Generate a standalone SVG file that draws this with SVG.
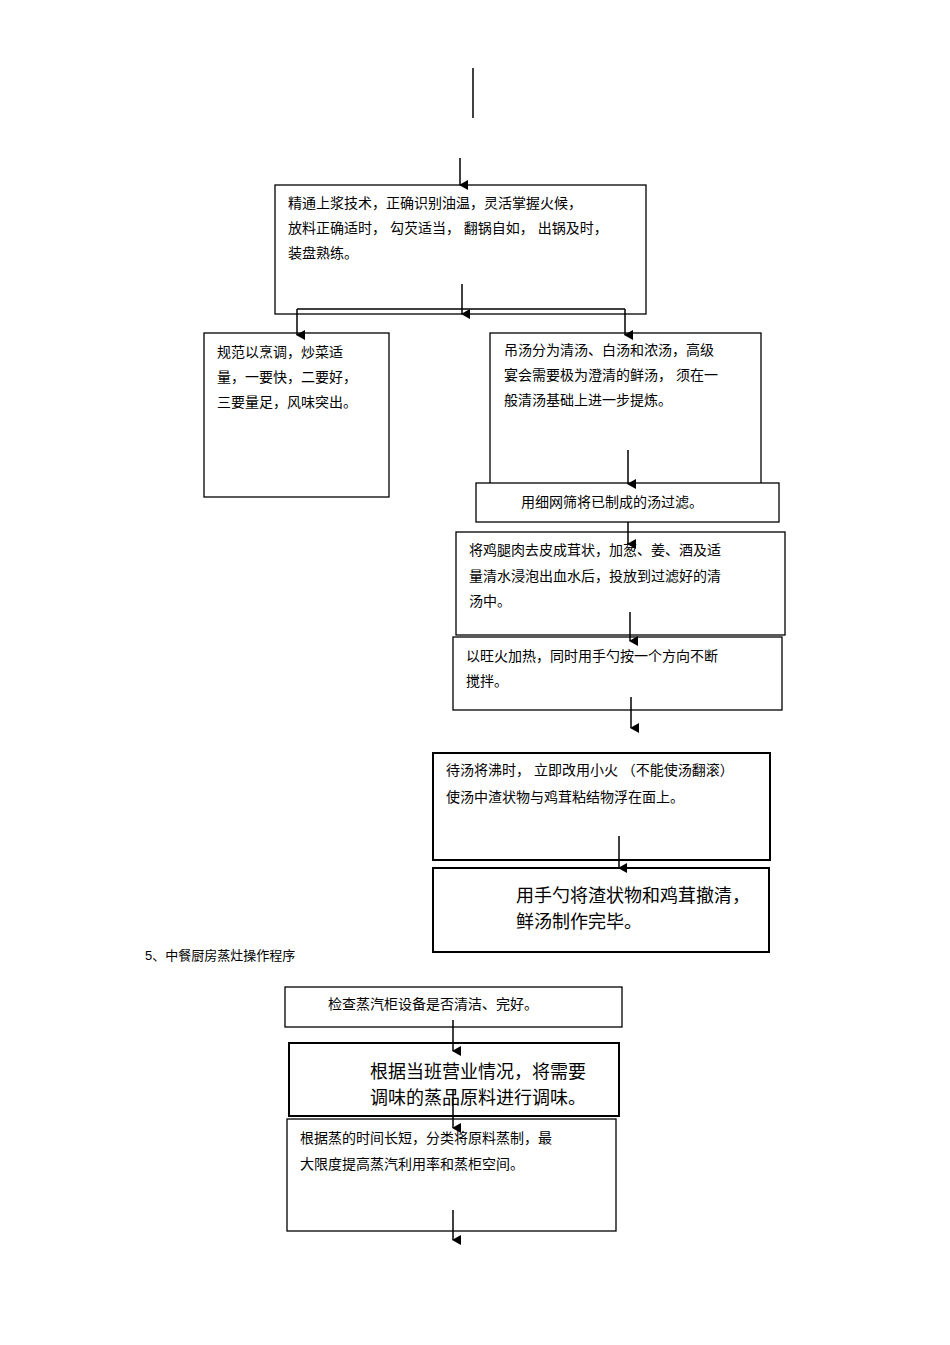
<svg xmlns="http://www.w3.org/2000/svg" width="950" height="1345" viewBox="0 0 950 1345">
<style>
rect{fill:#fff;stroke:#000;stroke-width:1.3}
.th{stroke-width:2}
text{font-family:"Liberation Sans","Noto Sans CJK SC",sans-serif;font-size:14px;fill:#000}
.b{font-size:18px}
line{stroke:#000;stroke-width:1.5}
</style>
<defs><marker id="a" markerWidth="10" markerHeight="10" refX="5" refY="8" orient="auto" markerUnits="userSpaceOnUse"><path d="M0,0L10,0L5,9z" transform="rotate(0)" fill="#000"/></marker>
<marker id="h" markerWidth="10" markerHeight="10" refX="8" refY="5" orient="auto" markerUnits="userSpaceOnUse"><path d="M0,0L9,5L0,10z" fill="#000"/></marker></defs>
<rect x="0" y="0" width="950" height="1345" style="stroke:none"/>
<g id="n1"><rect x="275" y="185" width="371" height="129"/>
<text x="288" y="208">精通上浆技术，正确识别油温，灵活掌握火候，</text>
<text x="288" y="233">放料正确适时，   勾芡适当，  翻锅自如，  出锅及时，</text>
<text x="288" y="258">装盘熟练。</text></g>
<g id="n2"><rect x="204" y="333" width="185" height="164"/>
<text x="217" y="357">规范以烹调，炒菜适</text><text x="217" y="382">量，一要快，二要好，</text><text x="217" y="407">三要量足，风味突出。</text></g>
<g id="n3"><rect x="490" y="333" width="271" height="160"/>
<text x="504" y="355">吊汤分为清汤、白汤和浓汤，高级</text><text x="504" y="380">宴会需要极为澄清的鲜汤，    须在一</text><text x="504" y="405">般清汤基础上进一步提炼。</text></g>
<g id="n4"><rect x="476" y="483" width="303" height="39"/><text x="521" y="507">用细网筛将已制成的汤过滤。</text></g>
<g id="n5"><rect x="456" y="532" width="329" height="103"/>
<text x="469" y="555">将鸡腿肉去皮成茸状，加葱、姜、酒及适</text><text x="469" y="581">量清水浸泡出血水后，投放到过滤好的清</text><text x="469" y="606">汤中。</text></g>
<g id="n6"><rect x="453" y="637" width="329" height="73"/>
<text x="466" y="661">以旺火加热，同时用手勺按一个方向不断</text><text x="466" y="686">搅拌。</text></g>
<g id="n7"><rect class="th" x="433" y="753" width="337" height="107"/>
<text x="446" y="775">待汤将沸时，  立即改用小火 （不能使汤翻滚）</text><text x="446" y="802">使汤中渣状物与鸡茸粘结物浮在面上。</text></g>
<g id="n8"><rect class="th" x="433" y="868" width="336" height="84"/>
<text class="b" x="516" y="902">用手勺将渣状物和鸡茸撤清，</text><text class="b" x="516" y="928">鲜汤制作完毕。</text></g>
<text x="145" y="960" style="font-size:13px">5、中餐厨房蒸灶操作程序</text>
<g id="n9"><rect x="285" y="987" width="337" height="40"/><text x="328" y="1009">检查蒸汽柜设备是否清洁、完好。</text></g>
<g id="n10"><rect class="th" x="289" y="1043" width="330" height="73"/>
<text class="b" x="370" y="1078">根据当班营业情况，将需要</text><text class="b" x="370" y="1104">调味的蒸品原料进行调味。</text></g>
<g id="n11"><rect x="287" y="1119" width="329" height="112"/>
<text x="300" y="1143">根据蒸的时间长短，分类将原料蒸制，最</text><text x="300" y="1169">大限度提高蒸汽利用率和蒸柜空间。</text></g>
<g id="connectors">
<line x1="473" y1="68" x2="473" y2="118"/>
<line x1="460" y1="158" x2="460" y2="185" marker-end="url(#a)"/>
<line x1="462" y1="284" x2="462" y2="314" marker-end="url(#a)"/>
<line x1="297" y1="309" x2="625" y2="309"/>
<line x1="297" y1="309" x2="297" y2="335" marker-end="url(#a)"/>
<line x1="625" y1="309" x2="625" y2="335" marker-end="url(#a)"/>
<line x1="628" y1="450" x2="628" y2="484" marker-end="url(#a)"/>
<line x1="628" y1="522" x2="628" y2="544" marker-end="url(#a)"/>
<line x1="630" y1="612" x2="630" y2="641" marker-end="url(#a)"/>
<line x1="631" y1="697" x2="631" y2="728" marker-end="url(#a)"/>
<line x1="619" y1="836" x2="619" y2="868" marker-end="url(#a)"/>
<line x1="453" y1="1020" x2="453" y2="1051" marker-end="url(#a)"/>
<line x1="453" y1="1090" x2="453" y2="1128" marker-end="url(#a)"/>
<line x1="453" y1="1210" x2="453" y2="1240" marker-end="url(#a)"/>
</g>
</svg>
